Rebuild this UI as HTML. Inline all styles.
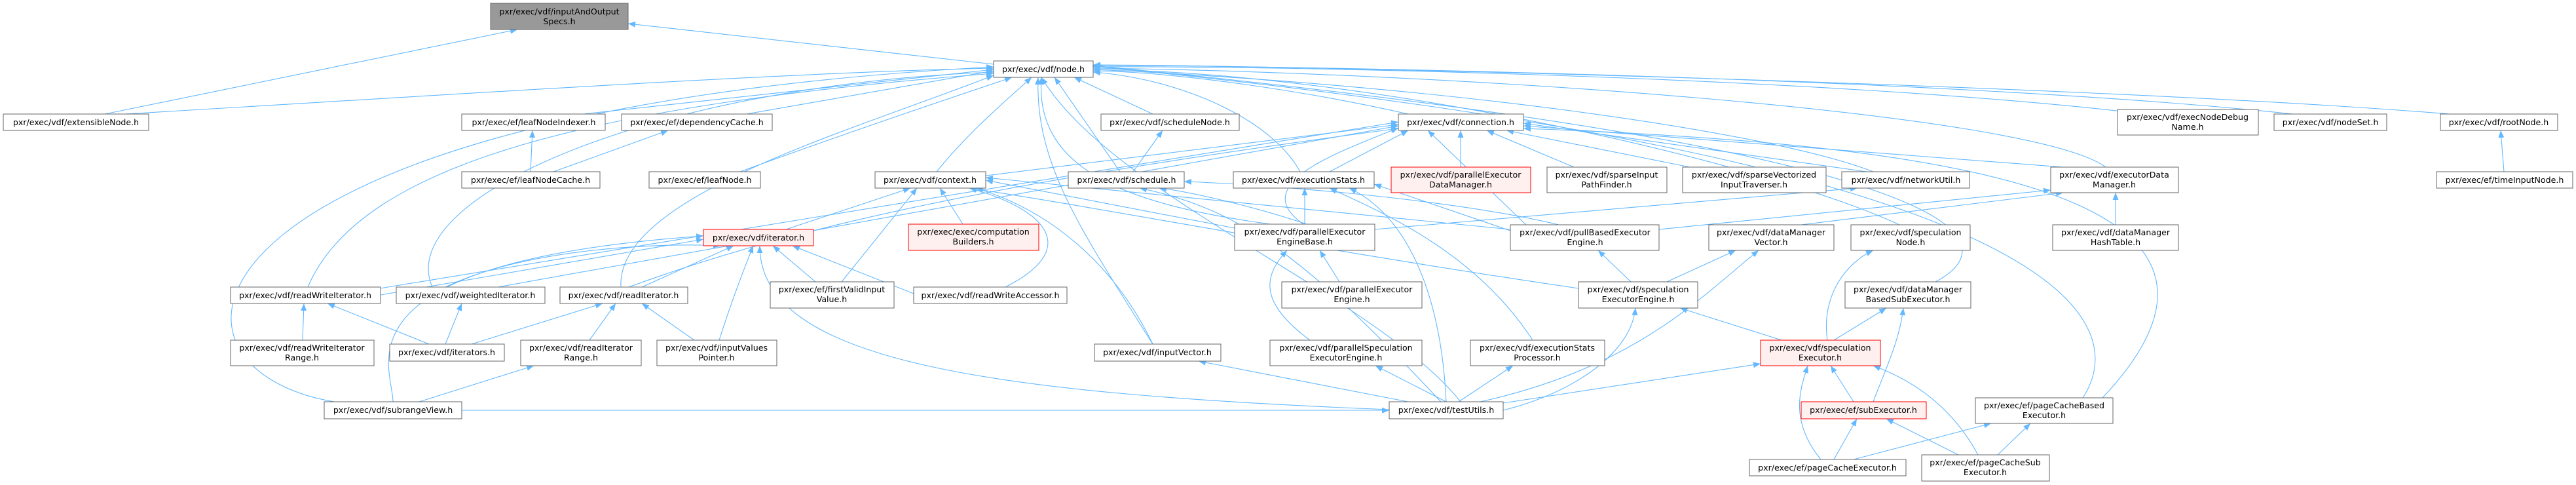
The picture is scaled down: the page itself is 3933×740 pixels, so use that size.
<!DOCTYPE html>
<html><head><meta charset="utf-8"><style>
html,body{margin:0;padding:0;background:#fff;}
svg{display:block;}
text{font-family:"DejaVu Sans","Liberation Sans",sans-serif;font-size:12.6px;fill:#000;text-anchor:middle;}
.n{fill:#fff;stroke:#666;stroke-width:1;}
.g{fill:#999;stroke:#666;stroke-width:1;}
.r{fill:#fff0f0;stroke:#f00;stroke-width:1;}
.e path{fill:none;stroke:#63b8ff;stroke-width:1.1;marker-end:url(#ah);}
</style></head><body>
<svg width="3933" height="740" viewBox="0 0 3933 740" xmlns="http://www.w3.org/2000/svg">
<defs><marker id="ah" markerUnits="userSpaceOnUse" markerWidth="12" markerHeight="10" refX="11" refY="4.5" orient="auto"><path d="M0,0 L11,4.5 L0,9 z" fill="#63b8ff"/></marker></defs>
<g class="e">
<path d="M1517 98 L959 36"/>
<path d="M160 174 L790 45"/>
<path d="M190 174 C600 150,1200 110,1517 104"/>
<path d="M890 174 L1517 106"/>
<path d="M1140 174 L1517 108"/>
<path d="M1760 174 L1640 118"/>
<path d="M2150 174 C2000 140,1800 110,1669 108"/>
<path d="M3240 170 C2800 120,2000 100,1669 102"/>
<path d="M3500 174 C3000 120,2000 100,1669 100"/>
<path d="M3740 174 C3200 130,2000 100,1669 99"/>
<path d="M1130 262 C1300 200,1450 150,1545 118"/>
<path d="M1430 262 C1480 200,1540 150,1575 118"/>
<path d="M1710 262 L1610 118"/>
<path d="M1985 262 C1940 180,1800 120,1669 110"/>
<path d="M3215 255 C3100 170,2200 110,1669 104"/>
<path d="M2860 262 C2700 200,2200 130,1669 106"/>
<path d="M470 438 C550 250,900 160,1517 112"/>
<path d="M660 438 C600 300,1000 130,1517 110"/>
<path d="M948 438 C940 300,1300 200,1517 115"/>
<path d="M510 613 C200 560,260 170,1517 102"/>
<path d="M2230 613 C2100 450,1700 300,1590 118"/>
<path d="M1760 525 C1650 350,1580 250,1585 118"/>
<path d="M1940 342 C1700 310,1580 250,1590 118"/>
<path d="M2900 343 C2700 250,2100 110,1669 106"/>
<path d="M2955 430 C3050 380,3100 240,1669 100"/>
<path d="M3180 607 C3250 500,3200 250,1669 101"/>
<path d="M2230 255 L2230 199"/>
<path d="M2403 255 L2270 199"/>
<path d="M2580 255 L2300 199"/>
<path d="M2850 262 L2326 188"/>
<path d="M3150 255 L2326 192"/>
<path d="M2030 262 L2150 199"/>
<path d="M1505 268 L2135 190"/>
<path d="M1990 342 C1900 280,2050 230,2135 195"/>
<path d="M2330 343 L2180 199"/>
<path d="M580 440 L2135 186"/>
<path d="M760 438 L2135 192"/>
<path d="M960 438 C1200 350,1500 280,2135 196"/>
<path d="M3210 607 C3500 300,3000 220,2326 196"/>
<path d="M1200 350 L1390 287"/>
<path d="M1470 342 L1435 287"/>
<path d="M1535 438 C1650 380,1600 320,1480 287"/>
<path d="M1885 348 L1505 275"/>
<path d="M2306 350 L1505 271"/>
<path d="M2410 440 C2000 380,1700 320,1480 287"/>
<path d="M1285 430 L1400 287"/>
<path d="M1760 525 C1700 400,1600 320,1490 287"/>
<path d="M581 450 L1074 365"/>
<path d="M680 438 C800 380,1000 370,1100 375"/>
<path d="M980 438 L1120 375"/>
<path d="M1245 430 L1180 375"/>
<path d="M1098 519 C1120 450,1140 400,1150 375"/>
<path d="M600 613 C600 560,500 400,1074 360"/>
<path d="M2121 625 C1500 600,1160 550,1160 375"/>
<path d="M1400 450 L1210 375"/>
<path d="M810 262 L813 199"/>
<path d="M845 262 L1020 199"/>
<path d="M1730 262 L1775 199"/>
<path d="M3823 262 L3818 199"/>
<path d="M462 519 L464 463"/>
<path d="M655 525 L500 463"/>
<path d="M680 525 L705 463"/>
<path d="M720 525 L920 463"/>
<path d="M900 519 L940 463"/>
<path d="M1060 519 L980 463"/>
<path d="M640 613 L815 558"/>
<path d="M1995 342 C1900 310,1800 290,1770 287"/>
<path d="M2380 343 C2200 300,1900 280,1808 277"/>
<path d="M2200 613 C2000 400,1900 320,1740 287"/>
<path d="M1992 342 L1992 287"/>
<path d="M2340 519 C2250 380,2100 320,2030 287"/>
<path d="M2208 613 C2200 450,2150 330,2060 287"/>
<path d="M2306 352 L2098 281"/>
<path d="M2045 430 L2015 382"/>
<path d="M2000 519 C1920 460,1930 420,1965 382"/>
<path d="M2208 613 L2100 558"/>
<path d="M2227 613 L2310 558"/>
<path d="M2150 613 L1830 551"/>
<path d="M2490 430 L2440 382"/>
<path d="M2545 430 L2650 382"/>
<path d="M2295 626 C2400 600,2490 540,2497 470"/>
<path d="M2260 613 C2500 560,2600 450,2685 382"/>
<path d="M2295 615 L2688 555"/>
<path d="M2720 519 L2565 470"/>
<path d="M2790 519 C2780 450,2820 400,2860 382"/>
<path d="M2830 613 L2795 558"/>
<path d="M2860 613 C2880 560,2900 520,2906 470"/>
<path d="M2800 519 L2880 470"/>
<path d="M2780 701 C2730 640,2750 590,2760 558"/>
<path d="M2800 701 L2835 639"/>
<path d="M2830 701 L3040 646"/>
<path d="M2990 694 L2880 639"/>
<path d="M3020 694 C2980 620,2920 580,2860 558"/>
<path d="M3050 694 L3100 646"/>
<path d="M3230 343 L3230 294"/>
<path d="M2099 350 L2836 287"/>
<path d="M2533 350 L3131 290"/>
<path d="M2750 343 L3150 294"/>
<path d="M705 626 C1400 630,1900 630,2121 626"/>
</g>
<g>
<rect class="g" x="749" y="5" width="210" height="40"/><text x="854" y="22">pxr/exec/vdf/inputAndOutput</text><text x="854" y="37">Specs.h</text>
<rect class="n" x="1517" y="93" width="152" height="25"/><text x="1593" y="110">pxr/exec/vdf/node.h</text>
<rect class="n" x="5" y="174" width="222" height="25"/><text x="116" y="191">pxr/exec/vdf/extensibleNode.h</text>
<rect class="n" x="705" y="174" width="219" height="25"/><text x="815" y="191">pxr/exec/ef/leafNodeIndexer.h</text>
<rect class="n" x="949" y="174" width="230" height="25"/><text x="1064" y="191">pxr/exec/ef/dependencyCache.h</text>
<rect class="n" x="1681" y="174" width="211" height="25"/><text x="1786" y="191">pxr/exec/vdf/scheduleNode.h</text>
<rect class="n" x="2135" y="174" width="191" height="25"/><text x="2230" y="191">pxr/exec/vdf/connection.h</text>
<rect class="n" x="3233" y="167" width="215" height="39"/><text x="3340" y="183">pxr/exec/vdf/execNodeDebug</text><text x="3340" y="198">Name.h</text>
<rect class="n" x="3472" y="174" width="172" height="25"/><text x="3558" y="191">pxr/exec/vdf/nodeSet.h</text>
<rect class="n" x="3726" y="174" width="179" height="25"/><text x="3815" y="191">pxr/exec/vdf/rootNode.h</text>
<rect class="n" x="705" y="262" width="211" height="25"/><text x="810" y="279">pxr/exec/ef/leafNodeCache.h</text>
<rect class="n" x="991" y="262" width="170" height="25"/><text x="1076" y="279">pxr/exec/ef/leafNode.h</text>
<rect class="n" x="1336" y="262" width="169" height="25"/><text x="1420" y="279">pxr/exec/vdf/context.h</text>
<rect class="n" x="1631" y="262" width="177" height="25"/><text x="1720" y="279">pxr/exec/vdf/schedule.h</text>
<rect class="n" x="1883" y="262" width="215" height="25"/><text x="1990" y="279">pxr/exec/vdf/executionStats.h</text>
<rect class="r" x="2124" y="255" width="213" height="39"/><text x="2230" y="271">pxr/exec/vdf/parallelExecutor</text><text x="2230" y="286">DataManager.h</text>
<rect class="n" x="2362" y="255" width="183" height="39"/><text x="2453" y="271">pxr/exec/vdf/sparseInput</text><text x="2453" y="286">PathFinder.h</text>
<rect class="n" x="2569" y="255" width="219" height="39"/><text x="2678" y="271">pxr/exec/vdf/sparseVectorized</text><text x="2678" y="286">InputTraverser.h</text>
<rect class="n" x="2812" y="262" width="195" height="25"/><text x="2910" y="279">pxr/exec/vdf/networkUtil.h</text>
<rect class="n" x="3131" y="255" width="195" height="39"/><text x="3228" y="271">pxr/exec/vdf/executorData</text><text x="3228" y="286">Manager.h</text>
<rect class="n" x="3720" y="262" width="208" height="25"/><text x="3824" y="279">pxr/exec/ef/timeInputNode.h</text>
<rect class="r" x="1074" y="350" width="168" height="25"/><text x="1158" y="367">pxr/exec/vdf/iterator.h</text>
<rect class="r" x="1387" y="342" width="199" height="40"/><text x="1486" y="358">pxr/exec/exec/computation</text><text x="1486" y="373">Builders.h</text>
<rect class="n" x="1885" y="342" width="214" height="40"/><text x="1992" y="358">pxr/exec/vdf/parallelExecutor</text><text x="1992" y="373">EngineBase.h</text>
<rect class="n" x="2306" y="343" width="227" height="39"/><text x="2420" y="359">pxr/exec/vdf/pullBasedExecutor</text><text x="2420" y="374">Engine.h</text>
<rect class="n" x="2609" y="343" width="191" height="39"/><text x="2704" y="359">pxr/exec/vdf/dataManager</text><text x="2704" y="374">Vector.h</text>
<rect class="n" x="2826" y="343" width="182" height="39"/><text x="2917" y="359">pxr/exec/vdf/speculation</text><text x="2917" y="374">Node.h</text>
<rect class="n" x="3134" y="343" width="192" height="39"/><text x="3230" y="359">pxr/exec/vdf/dataManager</text><text x="3230" y="374">HashTable.h</text>
<rect class="n" x="352" y="438" width="229" height="25"/><text x="466" y="455">pxr/exec/vdf/readWriteIterator.h</text>
<rect class="n" x="605" y="438" width="227" height="25"/><text x="718" y="455">pxr/exec/vdf/weightedIterator.h</text>
<rect class="n" x="855" y="438" width="195" height="25"/><text x="952" y="455">pxr/exec/vdf/readIterator.h</text>
<rect class="n" x="1176" y="430" width="189" height="40"/><text x="1270" y="446">pxr/exec/ef/firstValidInput</text><text x="1270" y="461">Value.h</text>
<rect class="n" x="1395" y="438" width="234" height="25"/><text x="1512" y="455">pxr/exec/vdf/readWriteAccessor.h</text>
<rect class="n" x="1957" y="430" width="214" height="40"/><text x="2064" y="446">pxr/exec/vdf/parallelExecutor</text><text x="2064" y="461">Engine.h</text>
<rect class="n" x="2410" y="430" width="182" height="40"/><text x="2501" y="446">pxr/exec/vdf/speculation</text><text x="2501" y="461">ExecutorEngine.h</text>
<rect class="n" x="2817" y="430" width="192" height="40"/><text x="2913" y="446">pxr/exec/vdf/dataManager</text><text x="2913" y="461">BasedSubExecutor.h</text>
<rect class="n" x="352" y="519" width="219" height="39"/><text x="461" y="535">pxr/exec/vdf/readWriteIterator</text><text x="461" y="550">Range.h</text>
<rect class="n" x="595" y="525" width="175" height="26"/><text x="682" y="542">pxr/exec/vdf/iterators.h</text>
<rect class="n" x="795" y="519" width="184" height="39"/><text x="887" y="535">pxr/exec/vdf/readIterator</text><text x="887" y="550">Range.h</text>
<rect class="n" x="1003" y="519" width="183" height="39"/><text x="1094" y="535">pxr/exec/vdf/inputValues</text><text x="1094" y="550">Pointer.h</text>
<rect class="n" x="1671" y="525" width="193" height="26"/><text x="1767" y="542">pxr/exec/vdf/inputVector.h</text>
<rect class="n" x="1939" y="519" width="232" height="39"/><text x="2055" y="535">pxr/exec/vdf/parallelSpeculation</text><text x="2055" y="550">ExecutorEngine.h</text>
<rect class="n" x="2245" y="519" width="205" height="39"/><text x="2347" y="535">pxr/exec/vdf/executionStats</text><text x="2347" y="550">Processor.h</text>
<rect class="r" x="2688" y="519" width="183" height="39"/><text x="2779" y="535">pxr/exec/vdf/speculation</text><text x="2779" y="550">Executor.h</text>
<rect class="n" x="3016" y="607" width="210" height="39"/><text x="3121" y="623">pxr/exec/ef/pageCacheBased</text><text x="3121" y="638">Executor.h</text>
<rect class="n" x="495" y="613" width="210" height="26"/><text x="600" y="630">pxr/exec/vdf/subrangeView.h</text>
<rect class="n" x="2121" y="613" width="174" height="26"/><text x="2208" y="630">pxr/exec/vdf/testUtils.h</text>
<rect class="r" x="2750" y="613" width="191" height="26"/><text x="2845" y="630">pxr/exec/ef/subExecutor.h</text>
<rect class="n" x="2671" y="701" width="239" height="25"/><text x="2790" y="718">pxr/exec/ef/pageCacheExecutor.h</text>
<rect class="n" x="2934" y="694" width="195" height="40"/><text x="3031" y="710">pxr/exec/ef/pageCacheSub</text><text x="3031" y="725">Executor.h</text>
</g>
</svg>
</body></html>
